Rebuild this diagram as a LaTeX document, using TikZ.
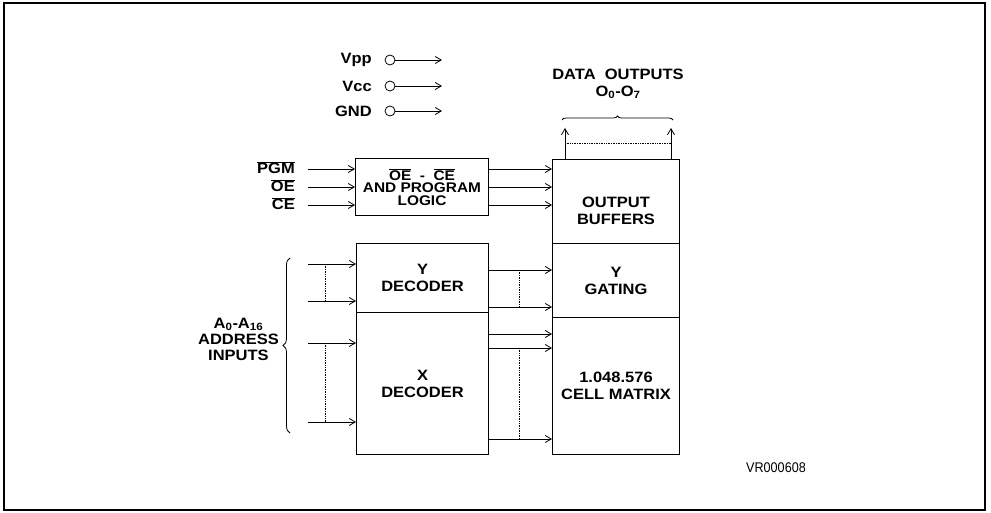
\documentclass[tikz,border=0pt]{standalone}
\usepackage{fontspec}
\setmainfont{Liberation Sans}[FakeStretch=1.1]
\newfontfamily\codefont{Liberation Sans}[FakeStretch=0.9]
\usetikzlibrary{arrows.meta, positioning, calc, decorations.pathreplacing}

\begin{document}
\begin{tikzpicture}[x=1pt, y=-1pt,
    txt/.style={font=\fontsize{15}{17}\selectfont\bfseries, align=center, inner sep=0pt},
    blk/.style={txt, draw, line width=1pt, anchor=north west},
    sig/.style={-{Straight Barb[length=6pt,width=7pt]}, line width=0.8pt},
    link/.style={densely dotted, line width=0.7pt},
    pin/.style={draw, circle, minimum size=10pt, inner sep=0pt, line width=0.8pt},
  ]
  \useasboundingbox (0,0) rectangle (991,513);
  % Frame
  \draw[line width=2.5pt] (4,3) rectangle (985,510);

  % Blocks
  \node[blk, minimum width=133pt, minimum height=57pt,
        font=\fontsize{14}{12.5}\selectfont\bfseries] (logic) at (355,158)
    {$\overline{\mbox{OE}}$\ \ -\ \ $\overline{\mbox{CE}}$\\AND PROGRAM\\LOGIC};
  \node[blk, minimum width=132pt, minimum height=69pt] (ydec) at (356,243) {Y\\DECODER};
  \node[blk, minimum width=132pt, minimum height=142pt] (xdec) at (356,312) {X\\DECODER};
  \node[blk, minimum width=127pt, minimum height=84pt,
        label={[txt, yshift=-9pt]center:OUTPUT\\BUFFERS}] (obuf) at (552,159) {};
  \node[blk, minimum width=127pt, minimum height=74pt] (ygate) at (552,243) {Y\\GATING};
  \node[blk, minimum width=127pt, minimum height=137pt] (matrix) at (552,317) {1.048.576\\CELL MATRIX};

  % Supplies
  \foreach \nm/\txt/\y in {vpp/Vpp/60, vcc/Vcc/86, gnd/GND/111} {
    \node[txt, anchor=east] (\nm) at (372,\y) {\txt};
    \node[pin] (\nm-pin) at (390,\y) {};
    \coordinate (\nm-end) at (442,\y);
    \draw[sig] (\nm-pin) -- (\nm-end);
  }

  % Control inputs
  \foreach \nm/\txt/\y in {pgm/PGM/169, oe/OE/187, ce/CE/205} {
    \node[txt, anchor=east] (\nm) at (295,\y-1.5) {$\overline{\mbox{\txt}}$};
    \coordinate (\nm-in) at (308,\y);
    \draw[sig] (\nm-in) -- (\nm-in -| logic.west);
    \draw[sig] (\nm-in -| logic.east) -- (\nm-in -| obuf.west);
  }

  % Address inputs
  \foreach \nm/\y in {a1/264, a2/301, a3/343, a4/422} {
    \coordinate (\nm) at (308,\y);
    \draw[sig] (\nm) -- (\nm -| ydec.west);
  }
  \draw[link] ($(a1)+(17,0)$) -- ($(a2)+(17,0)$);
  \draw[link] ($(a3)+(17,0)$) -- ($(a4)+(17,0)$);
  \draw[line width=0.8pt, decorate, decoration={brace, amplitude=7pt}] (290,433) -- (290,258);
  \node[txt, font=\fontsize{15}{16}\selectfont\bfseries, anchor=east] (addr) at (279,339)
    {A\textsubscript{0}-A\textsubscript{16}\\ADDRESS\\INPUTS};

  % Decoder outputs
  \foreach \y in {270,307}
    \draw[sig] (ydec.east |- 0,\y) -- (ygate.west |- 0,\y);
  \foreach \y in {334,348,439}
    \draw[sig] (xdec.east |- 0,\y) -- (matrix.west |- 0,\y);
  \draw[link] (519,270) -- (519,307);
  \draw[link] (519,348) -- (519,439);

  % Data outputs
  \coordinate (d0) at (565,128);
  \coordinate (d7) at (671,128);
  \draw[sig] (d0 |- obuf.north) -- (d0);
  \draw[sig] (d7 |- obuf.north) -- (d7);
  \draw[link] ($(d0)+(0,15)$) -- ($(d7)+(0,15)$);
  \draw[line width=0.8pt, decorate, decoration={brace, amplitude=4pt}] (562,120) -- (673,120);
  \node[txt] (dout) at (618,84) {DATA\ \ OUTPUTS\\O\textsubscript{0}-O\textsubscript{7}};

  \node[font=\codefont\fontsize{14}{14}\selectfont, inner sep=0pt] (ref) at (776,468) {VR000608};
\end{tikzpicture}
\end{document}
